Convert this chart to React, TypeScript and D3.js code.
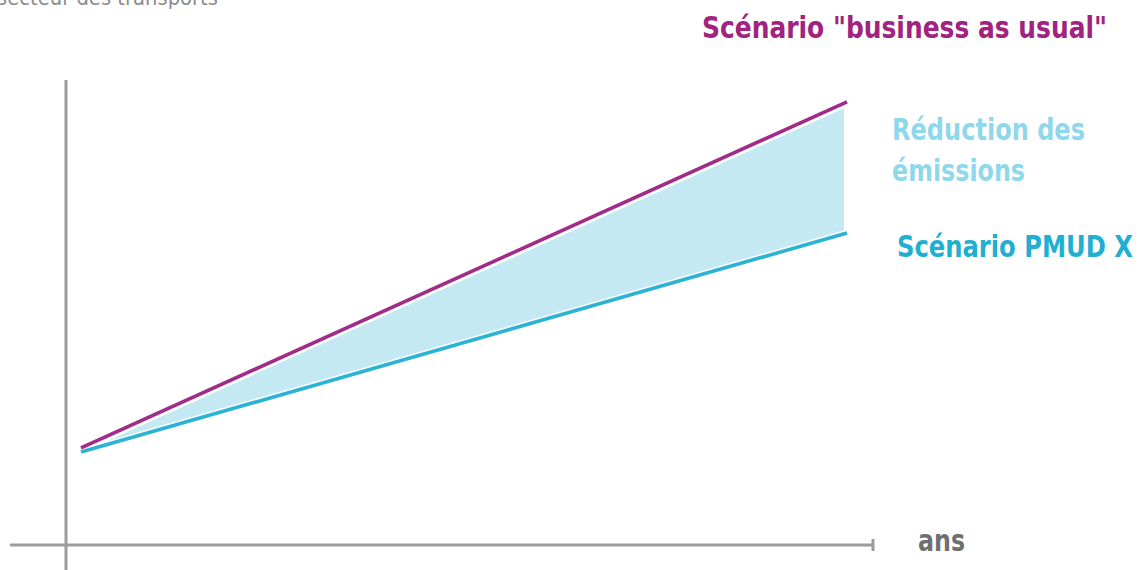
import React from "react";
import * as d3 from "d3";

const years = [0, 10];
const bauValues = [20.9, 95.3];
const pmudValues = [20.0, 67.1];
const fillEndYear = 9.96;

const titleText = "secteur des transports";
const bauLabel = "Scénario \"business as usual\"";
const reductionLabel = ["Réduction des", "émissions"];
const pmudLabel = "Scénario PMUD X";
const xAxisLabel = "ans";

const W = 1146;
const H = 570;
const FONT = "'DejaVu Sans Condensed', 'DejaVu Sans', sans-serif";

export default function App() {
  const x = d3.scaleLinear().domain([0, 10]).range([81, 847]);
  const y = d3.scaleLinear().domain([0, 100]).range([545, 80]);

  const bauPts = years.map((t, i) => [t, bauValues[i]] as [number, number]);
  const pmudPts = years.map((t, i) => [t, pmudValues[i]] as [number, number]);

  const interp = (vals: number[], t: number) =>
    d3.scaleLinear().domain(years).range(vals)(t);
  const areaPts = [0, fillEndYear].map((t) => ({
    t,
    top: interp(bauValues, t),
    bot: interp(pmudValues, t),
  }));

  const line = d3
    .line<[number, number]>()
    .x((d) => x(d[0]))
    .y((d) => y(d[1]));
  const area = d3
    .area<{ t: number; top: number; bot: number }>()
    .x((d) => x(d.t))
    .y0((d) => y(d.bot))
    .y1((d) => y(d.top));

  return (
    <svg
      width={W}
      height={H}
      style={{ position: "absolute", left: 0, top: 0, background: "#fff" }}
    >
      <text
        x={-3}
        y={5}
        fontFamily={FONT}
        fontSize={21}
        fill="#8c8c8c"
        textLength={221}
        lengthAdjust="spacingAndGlyphs"
      >
        {titleText}
      </text>

      {/* axes */}
      <line x1={66} y1={y(100)} x2={66} y2={H} stroke="#9b9b9b" strokeWidth={3} />
      <line x1={10} y1={y(0)} x2={873} y2={y(0)} stroke="#9b9b9b" strokeWidth={3} />
      <line x1={873} y1={y(0) - 6} x2={873} y2={y(0) + 6} stroke="#9b9b9b" strokeWidth={3} />

      {/* reduction area */}
      <path d={area(areaPts) || ""} fill="#c4e9f3" />
      <path d={line(bauPts) || ""} stroke="#fff" strokeWidth={9} fill="none" />
      <path d={line(pmudPts) || ""} stroke="#fff" strokeWidth={7} fill="none" opacity={0.8} />
      <path d={line(pmudPts) || ""} stroke="#2ab3d4" strokeWidth={3.6} fill="none" />
      <path d={line(bauPts) || ""} stroke="#a22b88" strokeWidth={3.6} fill="none" />

      {/* labels */}
      <text
        x={702}
        y={38}
        fontFamily={FONT}
        fontWeight="bold"
        fontSize={30}
        fill="#a0237f"
        textLength={405}
        lengthAdjust="spacingAndGlyphs"
      >
        {bauLabel}
      </text>
      <text
        x={892}
        y={140}
        fontFamily={FONT}
        fontWeight="bold"
        fontSize={30}
        fill="#8fd8ec"
        textLength={193}
        lengthAdjust="spacingAndGlyphs"
      >
        {reductionLabel[0]}
      </text>
      <text
        x={892}
        y={181}
        fontFamily={FONT}
        fontWeight="bold"
        fontSize={30}
        fill="#8fd8ec"
        textLength={133}
        lengthAdjust="spacingAndGlyphs"
      >
        {reductionLabel[1]}
      </text>
      <text
        x={897}
        y={257}
        fontFamily={FONT}
        fontWeight="bold"
        fontSize={30}
        fill="#1fafd2"
        textLength={236}
        lengthAdjust="spacingAndGlyphs"
      >
        {pmudLabel}
      </text>
      <text
        x={918}
        y={551}
        fontFamily={FONT}
        fontWeight="bold"
        fontSize={31}
        fill="#6f6f6f"
        textLength={47}
        lengthAdjust="spacingAndGlyphs"
      >
        {xAxisLabel}
      </text>
    </svg>
  );
}
